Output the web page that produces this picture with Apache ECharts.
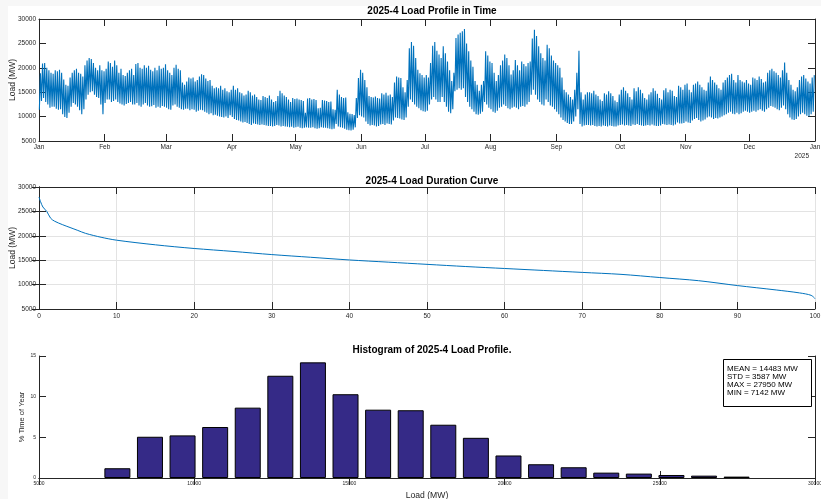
<!DOCTYPE html>
<html><head><meta charset="utf-8">
<script src="https://cdn.jsdelivr.net/npm/echarts@6/dist/echarts.min.js"></script>
<style>html,body{margin:0;padding:0;background:#f7f7f7}#c{width:821px;height:499px}</style>
</head><body><div id="c"></div><script>
const monthNames = ['Jan','Feb','Mar','Apr','May','Jun','Jul','Aug','Sep','Oct','Nov','Dec'];
// Daily peak / trough of hourly load, 2024-01-01 .. 2024-12-31 (MW)
const dailyMax = [
18900,20900,21000,20000,19500,19000,18800, 19500,19300,19600,19000,17600,16500,16300,
18000,19000,19500,19800,19000,18800,18200, 20500,21500,22000,21800,21000,20000,19500,
20500,19500,19300,19800,21300,21000,20200, 21500,20500,19000,19800,18500,18300,19000,
19500,19800,18500,20800,21000,20000,19800, 20500,20000,20400,19600,19300,20000,19500,
20400,19800,20000,20700,19500,19000,18500, 20000,20600,19800,19500,17000,16500,17200,
18000,17800,18000,17200,17500,18200,18700, 18500,17800,17300,17500,16300,15800,16000,
15800,16300,15500,15800,15200,15000,15500, 16300,15500,15800,15000,14800,14300,14500,
15300,15000,14300,14500,14000,13500,13400, 14200,14000,13800,14300,13500,13000,13200,
14200,15300,14800,14300,14000,13500,13000, 13800,13600,13700,13500,13400,13200,10800,
13700,13800,13500,13600,13400,11700,11800, 13400,13300,13200,13000,13100,11500,11400,
15500,14500,14000,13800,13900,10900,10600, 10500,10300,13800,17900,19600,19000,17500,
16000,14200,14000,13900,14100,13800,13700, 14800,14500,14900,14300,14500,14000,17000,
18200,18000,17900,16000,15000,17500,24000, 25300,24500,22000,19600,18900,18500,18000,
18500,18000,21000,24500,25280,23500,22700, 22000,24400,23000,21300,19500,17300,19000,
26100,26800,27200,27500,27950,25000,23400, 21500,20200,17300,16500,15300,16500,17300,
23400,22500,21300,21000,19000,17300,18500, 20500,21500,22700,22000,20500,18600,19500,
21600,20500,19500,21300,20800,20300,21000, 21300,26000,27800,26500,24400,23000,22000,
21500,24700,24000,22500,21500,21000,20500, 20000,18000,15500,15000,14500,14000,13500,
15500,19000,23500,15000,13500,14500,15000, 15000,14800,15300,14500,14200,13500,13200,
14800,14500,15200,14800,14200,13300,13000, 14500,15500,16000,15300,14800,14000,13500,
15800,15200,16000,15500,14800,13800,13500, 14500,15000,15800,15300,14700,13800,13500,
15400,15800,15000,15500,15300,14200,14000, 16300,16000,15500,16500,16800,15500,15000,
16500,16800,17200,16500,16000,15500,15300, 17000,18200,17500,17000,16500,15800,15500,
17000,17500,18000,18500,18800,17500,17000, 18500,17500,17200,17000,17500,16800,16500,
18000,17800,17500,18200,17700,17000,17200, 19000,19500,19800,19300,19000,18500,18000,
19500,21100,19000,17500,16500,15500,15200, 16000,17500,18200,18500,17800,17200,16800,
18000,18500];
const dailyMin = [
11400,13200,13800,13000,12500,11800,12000, 12000,11600,11400,11500,10500,9900,9700,
10800,12000,12800,12500,12000,11300,10500, 11500,13500,14500,15000,15200,14500,14000,
13800,12500,10500,12800,13500,13500,13000, 13200,13500,13000,12700,12500,12300,12600,
12800,13000,12500,12500,12800,12300,12000, 12500,12800,12300,12000,12100,12400,11800,
12000,11800,12200,12000,11800,11500,11400, 12300,12500,12000,11800,11500,11400,11600,
11600,11300,11500,11400,11000,11200,11400, 11300,11000,10800,10500,10700,10300,10400,
10200,10000,9900,9800,10000,9700,10300, 9900,9500,9300,9200,9000,8800,8900,
8700,8500,8300,8600,8500,8400,8300, 8400,8300,8200,8100,8100,8000,8100,
8300,8200,8000,8100,8000,7900,7800, 7900,7700,7800,7900,7700,7600,7700,
7800,7700,7700,7800,7600,7500,7600, 7800,7700,7700,7600,7500,7400,7500,
8500,8000,7800,7700,7500,7300,7200, 7142,7300,7800,9700,10300,10000,9800,
9000,8500,8200,8300,8200,8000,8100, 8400,8500,8300,8600,8500,8400,9200,
9800,9700,9600,9400,9300,9800,12000, 13500,13000,12500,12000,11700,11300,11100,
11000,11200,12500,13500,14000,13500,13000, 13000,14000,13000,12000,11000,10700,11500,
15200,15500,15800,15500,15800,14000,13000, 12000,11500,11000,10500,10400,10600,11000,
13000,12500,11800,11500,11000,10800,11200, 11800,12000,12500,12200,11700,11500,11800,
12000,11800,11500,12000,12200,12000,12500, 13000,14500,15500,14500,13500,13000,12500,
12300,13500,13000,12300,12000,11500,11000, 10500,9800,9300,9000,8700,8500,8500,
9000,10000,11500,8500,8000,8200,8300, 8300,8200,8300,8100,8000,8100,8000,
8200,8100,8000,8200,8100,8000,8000, 8200,8300,8400,8200,8300,8200,8100,
8400,8300,8500,8300,8200,8100,8200, 8300,8200,8400,8200,8100,8100,8200,
8500,8400,8300,8400,8300,8200,8400, 8800,8600,8600,8700,9000,8800,8700,
9200,9500,9700,9300,9000,9200,9400, 9800,10000,9800,9500,9700,9600,9800,
10000,10300,10500,10800,11000,10600,10500, 10800,10500,10700,11000,11200,11000,10800,
11000,11200,11000,11300,11500,11200,11000, 11500,11800,12200,12000,11800,11500,11300,
11800,12300,11500,10500,9800,9400,9300, 9500,10000,10500,10800,10500,10200,10000,
10500,11000];
// Load duration curve (percent of time, MW)
const durPct  = [0,0.2,0.5,1,1.5,2,3,4,5,6,8,10,15,20,25,30,35,40,45,50,55,60,65,70,75,80,85,90,95,98,99.5,100];
const durLoad = [27950,27000,25900,25000,23600,23000,22300,21700,21100,20500,19700,19100,18150,17400,16800,16150,15600,15050,14600,14150,13700,13300,12900,12500,12100,11450,10800,9800,8900,8300,7800,7142];
// Histogram bins (centre MW) and % time of year
const histCenters = [7525,8575,9625,10675,11725,12775,13825,14875,15925,16975,18025,19075,20125,21175,22225,23275,24325,25375,26425,27475];
const histPct     = [1.2,5.07,5.24,6.27,8.65,12.57,14.22,10.3,8.4,8.33,6.55,4.94,2.77,1.69,1.32,0.66,0.54,0.37,0.29,0.17];
const statsLines = ['MEAN = 14483 MW','STD = 3587 MW','MAX = 27950 MW','MIN = 7142 MW'];

const FONT = 'Liberation Sans';
const AX = '#262626';
const tsData = [];
for (let d = 0; d < dailyMax.length; d++) {
  tsData.push([new Date(2024,0,1+d,4).getTime(), dailyMin[d]]);
  tsData.push([new Date(2024,0,1+d,16).getTime(), dailyMax[d]]);
}
const t0 = new Date(2024,0,1).getTime(), t1 = new Date(2025,0,1).getTime();
const gb = {left:39,right:6,height:122,containLabel:false,outerBoundsMode:'none'};
const G = [Object.assign({top:19},gb),Object.assign({top:187},gb),Object.assign({top:356},gb)];
const tick = {show:true,inside:true,length:7,lineStyle:{color:AX,width:1}};
const line = {show:true,lineStyle:{color:AX,width:1}};
const plain = (v)=>String(v);
function lab(fs, m){return {color:AX,fontSize:fs,fontFamily:FONT,margin:m,formatter:plain};}
const mirrorX = (gi,type,min,max,interval)=>({gridIndex:gi,type,position:'top',min,max,interval,splitNumber:type==='time'?12:undefined,minInterval:type==='time'?28*864e5:undefined,maxInterval:type==='time'?31*864e5:undefined,axisLine:line,axisTick:tick,axisLabel:{show:false},splitLine:{show:false}});
const mirrorY = (gi,min,max,interval)=>({gridIndex:gi,type:'value',position:'right',min,max,interval,axisLine:line,axisTick:tick,axisLabel:{show:false},splitLine:{show:false}});
const gridLine = {show:true,lineStyle:{color:'#e3e3e3',width:1}};
const titleStyle = {fontSize:10,fontWeight:'bold',color:'#000',fontFamily:FONT};
const yName = (txt,gap,fs)=>({name:txt,nameLocation:'middle',nameGap:gap,nameMoveOverlap:false,nameTextStyle:{color:AX,fontSize:fs,fontFamily:FONT}});

const chart = echarts.init(document.getElementById('c'), null, {renderer:'canvas'});
chart.setOption({
  animation:false,
  backgroundColor:'#f7f7f7',
  title:[
    {text:'2025-4 Load Profile in Time',left:427,top:1,textAlign:'center',textStyle:titleStyle},
    {text:'2025-4 Load Duration Curve',left:427,top:171,textAlign:'center',textStyle:titleStyle},
    {text:'Histogram of 2025-4 Load Profile.',left:427,top:340,textAlign:'center',textStyle:titleStyle}
  ],
  grid:G,
  xAxis:[
    {gridIndex:0,type:'time',min:t0,max:t1,splitNumber:12,minInterval:28*864e5,maxInterval:31*864e5,
     axisLine:line,axisTick:tick,splitLine:{show:false},
     axisLabel:{color:AX,fontSize:6.5,fontFamily:FONT,margin:3,showMinLabel:true,showMaxLabel:true,hideOverlap:false,
       formatter:(v)=>monthNames[new Date(v).getMonth()]}},
    mirrorX(0,'time',t0,t1),
    {gridIndex:1,type:'value',min:0,max:100,interval:10,axisLine:line,axisTick:tick,splitLine:gridLine,axisLabel:lab(6.5,3.5)},
    mirrorX(1,'value',0,100,10),
    Object.assign({gridIndex:2,type:'value',min:5000,max:30000,interval:5000,axisLine:line,axisTick:tick,splitLine:{show:false},
     axisLabel:lab(5,3.5)}, yName('Load (MW)',13,8.6)),
    mirrorX(2,'value',5000,30000,5000)
  ],
  yAxis:[
    Object.assign({gridIndex:0,type:'value',min:5000,max:30000,interval:5000,axisLine:line,axisTick:tick,splitLine:{show:false},
     axisLabel:lab(6.5,3)}, yName('Load (MW)',22,8.5)),
    mirrorY(0,5000,30000,5000),
    Object.assign({gridIndex:1,type:'value',min:5000,max:30000,interval:5000,axisLine:line,axisTick:tick,splitLine:gridLine,
     axisLabel:lab(6.5,3)}, yName('Load (MW)',22,8.5)),
    mirrorY(1,5000,30000,5000),
    Object.assign({gridIndex:2,type:'value',min:0,max:15,interval:5,axisLine:line,axisTick:tick,splitLine:{show:false},
     axisLabel:lab(5,3)}, yName('% Time of Year',13,7.5)),
    mirrorY(2,0,15,5)
  ],
  series:[
    {type:'line',xAxisIndex:0,yAxisIndex:0,data:tsData,showSymbol:false,symbol:'none',lineStyle:{color:'#0072BD',width:1.1},clip:true},
    {type:'line',xAxisIndex:2,yAxisIndex:2,data:durPct.map((p,i)=>[p,durLoad[i]]),showSymbol:false,symbol:'none',smooth:0.3,lineStyle:{color:'#0072BD',width:1}},
    {type:'bar',xAxisIndex:4,yAxisIndex:4,data:histCenters.map((c,i)=>[c,histPct[i]]),barWidth:26,
     itemStyle:{color:'#352A87',borderColor:'#000',borderWidth:1}}
  ]
});
// year label under the last month tick, stats box in the histogram corner
const pEnd = chart.convertToPixel({xAxisIndex:0,yAxisIndex:0},[t1,5000]);
const pBox = chart.convertToPixel({xAxisIndex:4,yAxisIndex:4},[30000,15]);
chart.setOption({graphic:[
  {type:'rect',z:-10,shape:{x:8,y:6,width:821,height:499},style:{fill:'#ffffff'},silent:true},
  {type:'text',x:pEnd[0]-6,y:pEnd[1]+15,style:{text:'2025',fill:AX,fontSize:6.5,fontFamily:FONT,align:'right',verticalAlign:'middle'}},
  {type:'rect',shape:{x:pBox[0]-91.5,y:pBox[1]+3.5,width:88,height:47},style:{fill:'#fff',stroke:'#000',lineWidth:1},z:10},
  {type:'text',x:pBox[0]-88,y:pBox[1]+9,z:11,style:{text:statsLines.join('\n'),fill:'#000',fontSize:8,lineHeight:7.8,fontFamily:FONT,verticalAlign:'top'}}
]});
</script></body></html>
